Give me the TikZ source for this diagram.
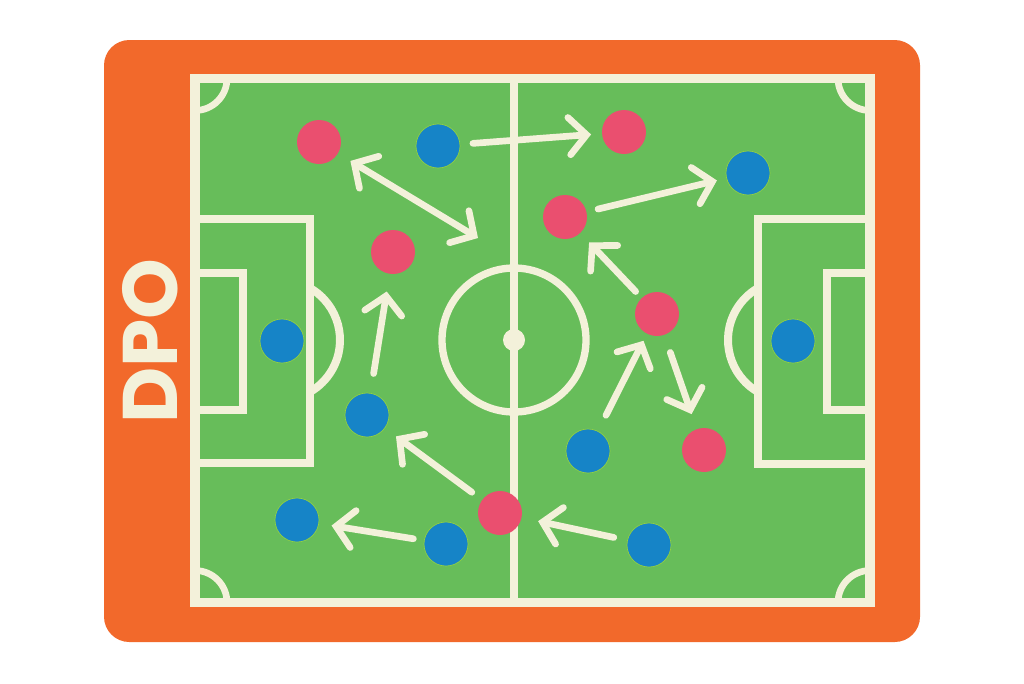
\documentclass[tikz,border=0pt]{standalone}
\usepackage{fontspec}
\newfontfamily\dpofont{Poppins}
\usetikzlibrary{arrows.meta}
\definecolor{pitch}{HTML}{67BD5A}
\definecolor{frame}{HTML}{F2692B}
\definecolor{chalk}{HTML}{F3F1DA}
\definecolor{redp}{HTML}{EA4F6F}
\definecolor{bluep}{HTML}{1684C7}
\tikzset{
  fieldline/.style={draw=chalk,line width=6pt,line cap=butt},
  redplayer/.style={circle,fill=redp,minimum size=33pt,inner sep=0pt,outer sep=0pt},
  blueplayer/.style={circle,fill=bluep,draw=pitch!70!yellow,line width=0.5pt,minimum size=33pt,inner sep=0pt,outer sep=0pt},
  move/.style={draw=chalk,line width=5pt,line cap=round,line join=round,
    -{Straight Barb[length=13pt,width=28pt,line cap=round]}},
  twoway/.style={draw=chalk,line width=5pt,line cap=round,line join=round,
    {Straight Barb[length=13pt,width=28pt,line cap=round]}-{Straight Barb[length=13pt,width=28pt,line cap=round]}}
}
\begin{document}
\begin{tikzpicture}[x=0.75pt,y=-0.75pt]
\useasboundingbox (0,0) rectangle (1024,683);
% frame
\fill[frame,rounded corners=19pt] (104,40) rectangle (920,642);
% pitch
\fill[pitch] (190,74) rectangle (875,607);
\draw[fieldline,line width=7.1pt] (195,78.5) rectangle (870,602.5);
% halfway line and centre
\draw[fieldline] (514,78.5) -- (514,602.5);
\draw[fieldline,line width=5.5pt] (514,340) circle[radius=72];
\fill[chalk] (514,340) circle[radius=11];
% left penalty area
\draw[fieldline,line join=miter] (195,218.5) -- (310,218.5) -- (310,463) -- (195,463);
\draw[fieldline,line join=miter] (195,272.5) -- (242.5,272.5) -- (242.5,409.5) -- (195,409.5);
\draw[fieldline] ([shift={(280,340)}]-60:60) arc[start angle=-60,end angle=60,radius=60];
% right penalty area
\draw[fieldline,line join=miter] (870,219) -- (758,219) -- (758,463.5) -- (870,463.5);
\draw[fieldline,line join=miter] (870,272.5) -- (826.5,272.5) -- (826.5,410) -- (870,410);
\draw[fieldline] ([shift={(788,340)}]120:60) arc[start angle=120,end angle=240,radius=60];
% corner arcs
\draw[fieldline,line width=5pt] (227,78.5) arc[start angle=0,end angle=90,radius=32];
\draw[fieldline,line width=5pt] (838,78.5) arc[start angle=180,end angle=90,radius=32];
\draw[fieldline,line width=5pt] (227,602.5) arc[start angle=0,end angle=-90,radius=32];
\draw[fieldline,line width=5pt] (838,602.5) arc[start angle=180,end angle=270,radius=32];
% label
\node[text=chalk,rotate=90,font=\dpofont\bfseries\fontsize{58pt}{58pt}\selectfont,inner sep=0pt] (dpo) at (150,341) {DPO};
% players
\node[redplayer] (r1) at (319,142) {};
\node[redplayer] (r2) at (624,132) {};
\node[redplayer] (r3) at (565,217) {};
\node[redplayer] (r4) at (393,252) {};
\node[redplayer] (r5) at (657,314) {};
\node[redplayer] (r6) at (704,450) {};
\node[redplayer] (r7) at (500,513) {};
\node[blueplayer] (b1) at (438,146) {};
\node[blueplayer] (b2) at (748,173) {};
\node[blueplayer] (b3) at (282,341) {};
\node[blueplayer] (b4) at (793,341) {};
\node[blueplayer] (b5) at (367,415) {};
\node[blueplayer] (b6) at (588,451) {};
\node[blueplayer] (b7) at (297,520) {};
\node[blueplayer] (b8) at (446,544) {};
\node[blueplayer] (b9) at (649,545) {};
\coordinate (c1) at (478,238);
% moves
\draw[move,shorten <=9.75pt,shorten >=8.25pt] (b1) -- (r2);
\draw[twoway,shorten <=11pt] (r1) -- (c1);
\draw[move,shorten <=9pt,shorten >=7.5pt] (r3) -- (b2);
\draw[move,shorten <=15pt,shorten >=13.5pt] (b5) -- (r4);
\draw[move,shorten <=6.75pt,shorten >=9.75pt] (r5) -- (r3);
\draw[move,shorten <=13.5pt,shorten >=6pt] (b6) -- (r5);
\draw[move,shorten <=14pt,shorten >=12pt] (r5) -- (r6);
\draw[move,shorten <=9.75pt,shorten >=10.5pt] (r7) -- (b5);
\draw[move,shorten <=8.25pt,shorten >=9.75pt] (b8) -- (b7);
\draw[move,shorten <=10.5pt,shorten >=12.75pt] (b9) -- (r7);
\end{tikzpicture}
\end{document}
